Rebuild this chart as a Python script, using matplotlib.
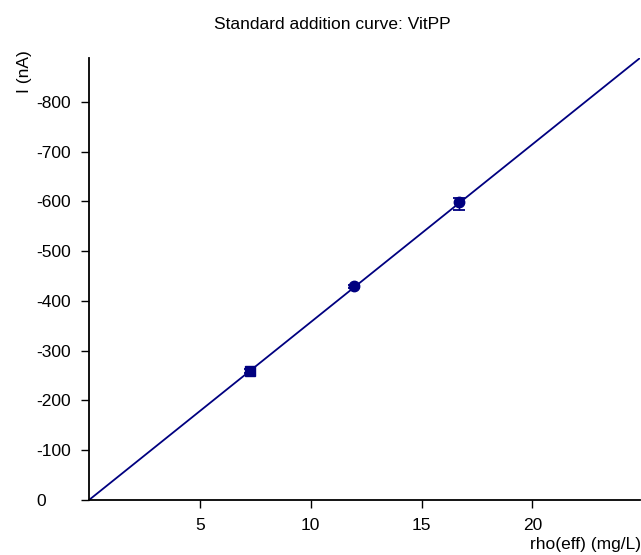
import matplotlib
matplotlib.use("Agg")
import matplotlib.pyplot as plt

plt.rcParams['font.family'] = ['Liberation Sans', 'DejaVu Sans']

# measured standard additions
conc = [7.25, 11.95, 16.7]
current = [-260, -429, -598]
err_low = [5, 3, 15]    # towards 0
err_high = [4, 3, 8]    # towards more negative
markers = ['s', 'o', 'o']

# regression line
fit_x = [0, 24.85]
fit_y = [0, -888]

xticks = [5, 10, 15, 20]
yticks = [0, -100, -200, -300, -400, -500, -600, -700, -800]

navy = '#000080'

fig = plt.figure(figsize=(6.41, 5.55), dpi=100)
W, H = 641, 555
ax = fig.add_axes([89 / W, 55 / H, (640 - 89) / W, (500 - 58) / H])

ax.plot(fit_x, fit_y, color=navy, lw=1.3, zorder=2)
for x, y, lo, hi, m in zip(conc, current, err_low, err_high, markers):
    ax.errorbar([x], [y], yerr=[[hi], [lo]], fmt=m, color=navy, ms=7.5 if m == 'o' else 7,
                capsize=4, elinewidth=1, capthick=1.3, zorder=3)

ax.set_xlim(0, 24.85)
ax.set_ylim(0, -888)
ax.set_xticks(xticks)
ax.set_yticks(yticks)
ax.set_yticklabels([str(v) for v in yticks])

for s in ['top', 'right']:
    ax.spines[s].set_visible(False)
for s in ['left', 'bottom']:
    ax.spines[s].set_linewidth(1.3)

ax.tick_params(axis='x', direction='out', length=6, width=1, pad=7, labelsize=12.5)
ax.tick_params(axis='y', direction='out', length=6, width=1, pad=32, labelsize=12.5)
for lab in ax.get_yticklabels():
    lab.set_horizontalalignment('left')

fig.text(332 / W, 1 - 29 / H, 'Standard addition curve: VitPP', ha='center', va='baseline', fontsize=12.5)
fig.text(24 / W, 1 - 72 / H, 'I (nA)', rotation=90, ha='center', va='center', fontsize=12.5)
fig.text(641 / W, 1 - 544 / H, 'rho(eff) (mg/L)', ha='right', va='center', fontsize=12.5)

fig.savefig('out.png', dpi=100)
